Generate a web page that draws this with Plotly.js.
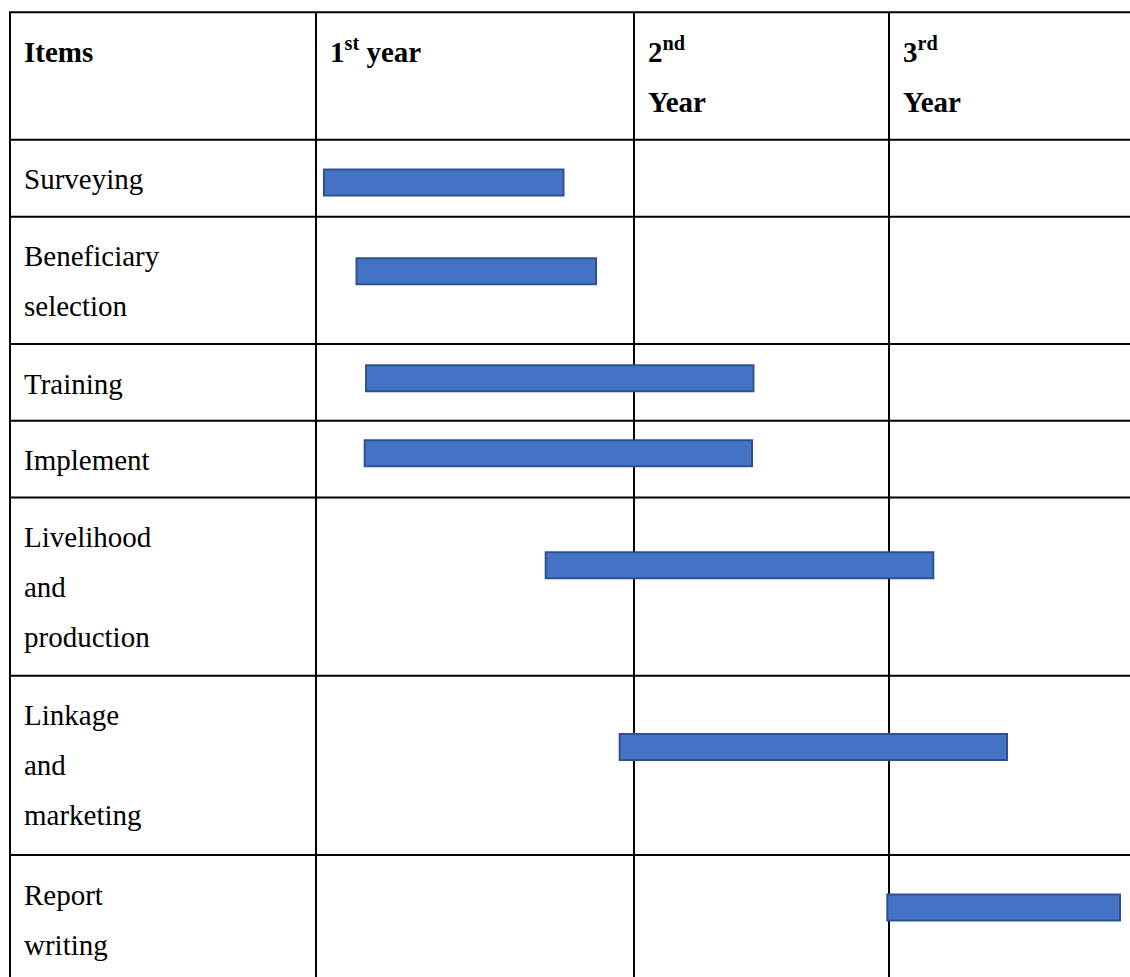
<!DOCTYPE html>
<html>
<head>
<meta charset="utf-8">
<script src="https://cdn.plot.ly/plotly-3.0.1.min.js"></script>
<style>html,body{margin:0;padding:0;background:#fff}#chart{width:1130px;height:977px}</style>
</head>
<body>
<div id="chart"></div>
<script>
// ---- data ----
const headerLines = [["Items"], ["1<sup>st</sup> year"], ["2<sup>nd</sup>", "Year"], ["3<sup>rd</sup>", "Year"]];
const items = ["Surveying", "Beneficiary selection", "Training", "Implement",
               "Livelihood and production", "Linkage and marketing", "Report writing"];
const itemLines = [["Surveying"], ["Beneficiary", "selection"], ["Training"], ["Implement"],
                   ["Livelihood", "and", "production"], ["Linkage", "and", "marketing"], ["Report", "writing"]];
const barStart = [324, 356.5, 366, 364.7, 545.7, 619.7, 887.3];
const barEnd   = [563.5, 596, 753.5, 752, 933.3, 1007, 1120];
const barLane  = [182.4, 271.2, 378.2, 453.3, 565.3, 747, 907.5];

// ---- table frame (layout) ----
const colEdges = [10, 316, 634, 889];
const rowEdges = [12.3, 139.7, 216.8, 344, 420.7, 497.5, 675.7, 855];
const W = 1130, H = 977;
const FS = 29, PADX = 14, FIRST = 52.5, LINE = 50;

const shapes = [];
colEdges.forEach(x => shapes.push({type:'line', xref:'x', yref:'y', x0:x, x1:x, y0:rowEdges[0], y1:H + 5,
  line:{color:'#000', width:2}, layer:'below'}));
rowEdges.forEach(y => shapes.push({type:'line', xref:'x', yref:'y', x0:colEdges[0] - 1, x1:W + 5, y0:y, y1:y,
  line:{color:'#000', width:2}, layer:'below'}));

function textTrace(xs, ys, texts, bold) {
  return {type:'scatter', mode:'text', x:xs, y:ys, text:texts, textposition:'middle right',
    textfont:{family:'Liberation Serif, Times New Roman, serif', size:FS, color:'#000',
      weight: bold ? 700 : 400},
    hoverinfo:'skip', showlegend:false, cliponaxis:false};
}

const hx = [], hy = [], ht = [];
headerLines.forEach((lines, c) => lines.forEach((t, k) => {
  hx.push(colEdges[c] + PADX); hy.push(rowEdges[0] + FIRST + k * LINE - 0.35 * FS); ht.push(t);
}));
const lx = [], ly = [], lt = [];
itemLines.forEach((lines, r) => lines.forEach((t, k) => {
  lx.push(colEdges[0] + PADX); ly.push(rowEdges[r + 1] + FIRST + k * LINE - 0.35 * FS); lt.push(t);
}));

const bars = {
  type:'bar', orientation:'h', y:barLane, base:barStart,
  x:barEnd.map((e, i) => e - barStart[i]), width:26,
  text:items, hoverinfo:'text', textposition:'none',
  marker:{color:'#4472C4', line:{color:'#2F528F', width:2}},
  showlegend:false
};

const layout = {
  width:W, height:H, margin:{l:0, r:0, t:0, b:0},
  paper_bgcolor:'#fff', plot_bgcolor:'rgba(0,0,0,0)',
  xaxis:{range:[0, W], visible:false, fixedrange:true},
  yaxis:{range:[H, 0], visible:false, fixedrange:true},
  shapes:shapes, showlegend:false, bargap:0
};

Plotly.newPlot('chart', [bars, textTrace(hx, hy, ht, true), textTrace(lx, ly, lt, false)], layout,
  {displayModeBar:false, staticPlot:true});
</script>
</body>
</html>
